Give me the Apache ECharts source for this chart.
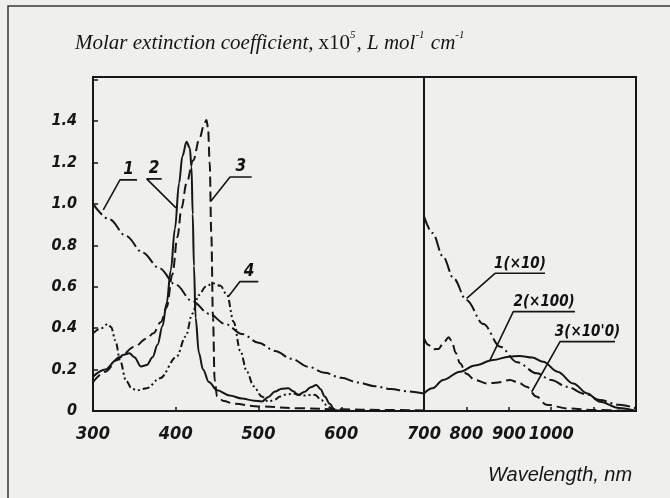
<!DOCTYPE html>
<html>
<head>
<meta charset="utf-8">
<script src="https://cdn.jsdelivr.net/npm/echarts@6/dist/echarts.min.js"></script>
<style>
html,body{margin:0;padding:0;background:#efefed;}
#chart{width:670px;height:498px;}
</style>
</head>
<body>
<div id="chart"></div>
<script>
// ---- Data (wavelength nm, molar extinction coefficient x10^5) ----
// Left panel 300-700 nm
var curve1 = [[300,1.0],[320,0.925],[340,0.845],[360,0.765],[380,0.69],[400,0.61],[420,0.53],[440,0.47],[460,0.42],[480,0.372],[500,0.33],[520,0.29],[540,0.252],[560,0.214],[580,0.185],[600,0.16],[620,0.138],[640,0.12],[660,0.106],[680,0.095],[700,0.085]];
var curve2 = [[300,0.166],[315,0.2],[328,0.245],[337,0.272],[344,0.279],[350,0.26],[358,0.215],[365,0.222],[372,0.26],[378,0.32],[384,0.41],[389,0.52],[394,0.68],[399,0.88],[404,1.1],[408,1.23],[413,1.3],[417,1.27],[419,1.18],[420.5,0.95],[422,0.7],[424,0.45],[428,0.28],[433,0.2],[440,0.14],[450,0.1],[465,0.075],[480,0.06],[495,0.05],[504,0.046],[512,0.068],[520,0.094],[528,0.108],[536,0.11],[542,0.095],[548,0.077],[556,0.093],[563,0.115],[570,0.126],[575,0.105],[580,0.07],[586,0.035],[592,0.005],[600,0],[700,0]];
var curve3 = [[300,0.14],[315,0.19],[332,0.26],[350,0.31],[365,0.35],[373,0.375],[382,0.43],[389,0.5],[396,0.66],[402,0.84],[407,0.98],[413,1.1],[421,1.21],[429,1.32],[434,1.38],[437,1.405],[439,1.37],[441,1.2],[443,0.85],[445,0.45],[447,0.15],[450,0.07],[458,0.048],[470,0.035],[500,0.022],[550,0.013],[600,0.008],[650,0.005],[700,0.003]];
var curve4 = [[300,0.375],[310,0.4],[318,0.42],[322,0.405],[327,0.34],[333,0.24],[340,0.145],[347,0.108],[353,0.1],[365,0.11],[381,0.158],[401,0.262],[412,0.36],[420,0.47],[428,0.56],[436,0.6],[445,0.617],[454,0.605],[462,0.56],[470,0.43],[478,0.29],[486,0.19],[494,0.12],[504,0.07],[512,0.045],[520,0.055],[526,0.07],[534,0.08],[542,0.085],[550,0.077],[556,0.075],[562,0.077],[568,0.078],[576,0.053],[582,0.03],[588,0.013],[596,0.002],[600,0],[700,0]];
// Right panel 700-1200 nm (scaled)
var curve1x10 = [[700,0.94],[720,0.86],[745,0.745],[770,0.64],[800,0.536],[840,0.42],[880,0.31],[920,0.235],[966,0.182],[1000,0.15],[1037,0.117],[1080,0.082],[1115,0.053],[1160,0.03],[1200,0.013]];
var curve2x100 = [[700,0.085],[720,0.11],[745,0.15],[785,0.19],[820,0.22],[863,0.246],[900,0.262],[926,0.266],[955,0.258],[981,0.238],[1015,0.19],[1052,0.133],[1085,0.085],[1115,0.045],[1160,0.015],[1200,0]];
var curve3x100 = [[700,0.35],[710,0.32],[722,0.298],[734,0.3],[748,0.335],[758,0.356],[765,0.34],[775,0.28],[785,0.23],[800,0.18],[820,0.15],[848,0.133],[875,0.138],[903,0.15],[925,0.135],[942,0.117],[965,0.07],[989,0.03],[1040,0.012],[1099,0.005],[1200,0]];

// Tick labels
var leftTicks = ['300','400','500','600'];
var rightTicks = ['700','800','900','1000'];
var yTicks = ['0','0.2','0.4','0.6','0.8','1.0','1.2','1.4'];

// Curve annotations: [leader end on curve, underline start, underline end], label text
var annLeft = [
  {text:'1', pts:[[312.4,0.971],[332.6,1.116],[353.2,1.116]]},
  {text:'2', pts:[[400.3,0.981],[364.9,1.121],[383.0,1.121]]},
  {text:'3', pts:[[442.6,1.014],[465.6,1.13],[491.8,1.13]]},
  {text:'4', pts:[[463.5,0.552],[477.6,0.625],[499.8,0.625]]}
];
var annRight = [
  {text:'1(×10)', pts:[[800.7,0.544],[867.5,0.665],[985.4,0.665]]},
  {text:'2(×100)', pts:[[855.7,0.246],[910.6,0.48],[1056,0.48]]},
  {text:"3(×10'0)", pts:[[954,0.093],[1020.8,0.335],[1150.5,0.335]]}
];

var INK = '#161616';
var SANS = "'Liberation Sans Narrow','DejaVu Sans Condensed','Liberation Sans',sans-serif";
var tickFont = {fontFamily:SANS, fontStyle:'italic', fontWeight:'bold', color:INK};

function curve(data, xi, type, width){
  return {type:'line', xAxisIndex:xi, yAxisIndex:xi, data:data, showSymbol:false, symbol:'none',
    smooth:0.35, smoothMonotone:'x', lineStyle:{color:INK, width:width||2, type:type}, z:3};
}
function annSeries(a, xi, size){
  var mid = [(a.pts[1][0]+a.pts[2][0])/2, a.pts[1][1]];
  return [
    {type:'line', xAxisIndex:xi, yAxisIndex:xi, data:a.pts, showSymbol:false, symbol:'none',
     lineStyle:{color:INK, width:1.6}, z:4, silent:true},
    {type:'scatter', xAxisIndex:xi, yAxisIndex:xi, data:[mid], symbolSize:0, silent:true,
     itemStyle:{opacity:1},
     label:{show:true, position:'top', distance:2, formatter:a.text, fontSize:size,
       fontFamily:SANS, fontStyle:'italic', fontWeight:'bold', color:'#111', opacity:1}}
  ];
}

var series = [
  curve(curve1, 0, [14,4,2,4]),
  curve(curve2, 0, 'solid'),
  curve(curve3, 0, [10,5]),
  curve(curve4, 0, [7,3,2,3,2,3]),
  curve(curve1x10, 1, [14,4,2,4]),
  curve(curve2x100, 1, 'solid'),
  curve(curve3x100, 1, [10,5])
];
annLeft.forEach(function(a){ series = series.concat(annSeries(a,0,17)); });
annRight.forEach(function(a){ series = series.concat(annSeries(a,1,15)); });

var YMAX = 1.613;
var SERIF = "'Liberation Serif','DejaVu Serif',serif";
var chart = echarts.init(document.getElementById('chart'), null, {renderer:'canvas'});
chart.setOption({
  backgroundColor:'#efefed',
  animation:false,
  title:[
    {text:'{i|Molar extinction coefficient,} {n|x10}{s|5}{i|, L mol}{s|-1}{i| cm}{s|-1}',
     left:70, top:25,
     textStyle:{fontWeight:'normal', rich:{
       i:{fontFamily:SERIF, fontStyle:'italic', fontWeight:'normal', fontSize:21, color:INK, lineHeight:24, verticalAlign:'bottom'},
       n:{fontFamily:SERIF, fontWeight:'normal', fontSize:21, color:INK, lineHeight:24, verticalAlign:'bottom'},
       s:{fontFamily:SERIF, fontStyle:'italic', fontWeight:'normal', fontSize:11, color:INK, lineHeight:24, verticalAlign:'top', padding:[0,1,0,0]}
     }}},
    {text:'Wavelength, nm', left:483, top:460,
     textStyle:{fontFamily:"'Liberation Sans','DejaVu Sans',sans-serif", fontStyle:'italic', fontWeight:'normal', fontSize:20, color:INK}}
  ],
  graphic:[
    {type:'polyline', shape:{points:[[8,498],[8,6],[670,6]]}, style:{stroke:'#3a3a3a', lineWidth:1.5, fill:null}, silent:true}
  ],
  grid:[
    {left:93, right:246, top:77, bottom:87, show:true, borderColor:INK, borderWidth:2, backgroundColor:'transparent'},
    {left:424, right:34, top:77, bottom:87, show:true, borderColor:INK, borderWidth:2, backgroundColor:'transparent'}
  ],
  xAxis:[
    {type:'value', gridIndex:0, min:300, max:700, interval:100,
     axisLine:{show:false}, splitLine:{show:false},
     axisTick:{show:true, inside:true, length:4, lineStyle:{color:INK, width:1.5}},
     axisLabel:Object.assign({fontSize:18, margin:14, showMaxLabel:false,
       formatter:function(v){ var s=String(v); return leftTicks.indexOf(s)>=0?s:''; }}, tickFont)},
    {type:'value', gridIndex:1, min:700, max:1200, interval:100,
     axisLine:{show:false}, splitLine:{show:false},
     axisTick:{show:true, inside:true, length:4, lineStyle:{color:INK, width:1.5}},
     axisLabel:Object.assign({fontSize:18, margin:14, showMaxLabel:false,
       formatter:function(v){ var s=String(v); return rightTicks.indexOf(s)>=0?s:''; }}, tickFont)}
  ],
  yAxis:[
    {type:'value', gridIndex:0, min:0, max:YMAX, interval:0.2,
     axisLine:{show:false}, splitLine:{show:false},
     axisTick:{show:true, inside:true, length:5, lineStyle:{color:INK, width:1.5}},
     axisLabel:Object.assign({fontSize:16, margin:16, showMaxLabel:false,
       formatter:function(v){ var s = (Math.abs(v)<1e-9)?'0':v.toFixed(1); return yTicks.indexOf(s)>=0?s:''; }}, tickFont)},
    {type:'value', gridIndex:1, min:0, max:YMAX, interval:0.2, show:true,
     axisLine:{show:false}, splitLine:{show:false}, axisTick:{show:false}, axisLabel:{show:false}}
  ],
  series:series
});
</script>
</body>
</html>
